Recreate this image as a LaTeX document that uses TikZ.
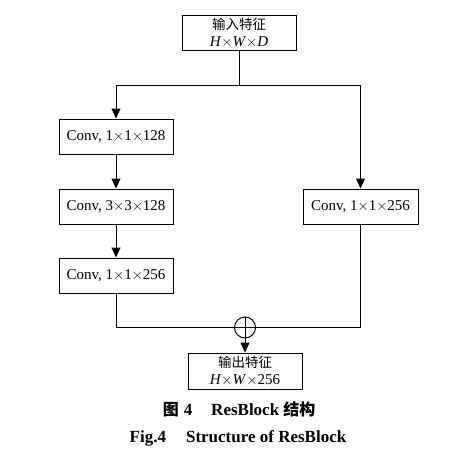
\documentclass[tikz,border=0pt]{standalone}
\usepackage{fontspec}
\setmainfont{Liberation Serif}
\newfontfamily\cjk{Noto Sans CJK SC}
\usetikzlibrary{arrows.meta}
\newcommand{\tms}{\ensuremath{\times}}
\begin{document}
\begin{tikzpicture}[x=1pt,y=-1pt,
  box/.style={draw, line width=1pt, minimum width=114pt, minimum height=35pt, inner sep=0pt,
    font=\fontsize{15}{15}\selectfont, align=center},
  wire/.style={line width=1pt},
  arr/.style={wire, -{Triangle[length=10pt,width=9pt]}},
  captext/.style={font=\fontsize{17}{18}\selectfont\bfseries}]
\useasboundingbox (0,0) rectangle (472,461);
\node[box] (in) at (239,32.5) {{\cjk\fontsize{13.5}{14}\selectfont 输入特征}\\[2pt]\textit{H}\tms\textit{W}\tms\textit{D}};
\node[box] (c1) at (116,136.5) {Conv, 1\tms1\tms128};
\node[box] (c2) at (116,206.5) {Conv, 3\tms3\tms128};
\node[box] (c3) at (116,275.5) {Conv, 1\tms1\tms256};
\node[box, minimum width=115pt] (cr) at (360.5,206.5) {Conv, 1\tms1\tms256};
\node[draw, wire, circle, minimum size=21pt, inner sep=0pt] (sum) at (245,327.5) {};
\node[box, minimum height=36pt] (out) at (245,371) {{\cjk\fontsize{13.5}{14}\selectfont 输出特征}\\[2pt]\textit{H}\tms\textit{W}\tms256};
\coordinate (j) at (239,85.5);
\draw[wire] (in) -- (j);
\draw[arr] (j) -| (c1);
\draw[arr] (j) -| (cr);
\draw[arr] (c1) -- (c2);
\draw[arr] (c2) -- (c3);
\draw[wire] (c3) |- (sum);
\draw[wire] (cr) |- (sum);
\draw[wire] (sum.west) -- (sum.east) (sum.north) -- (sum.south);
\draw[arr] (sum) -- (out);
\node[captext] (cap1) at (239,409) {{\cjk\fontsize{16}{18}\selectfont 图}\hspace{5pt}4\hspace{19pt}ResBlock\hspace{4pt}{\cjk\fontsize{16}{18}\selectfont 结构}};
\node[captext] (cap2) at (238,438) {Fig.4\hspace{20pt}Structure of ResBlock};
\end{tikzpicture}
\end{document}
